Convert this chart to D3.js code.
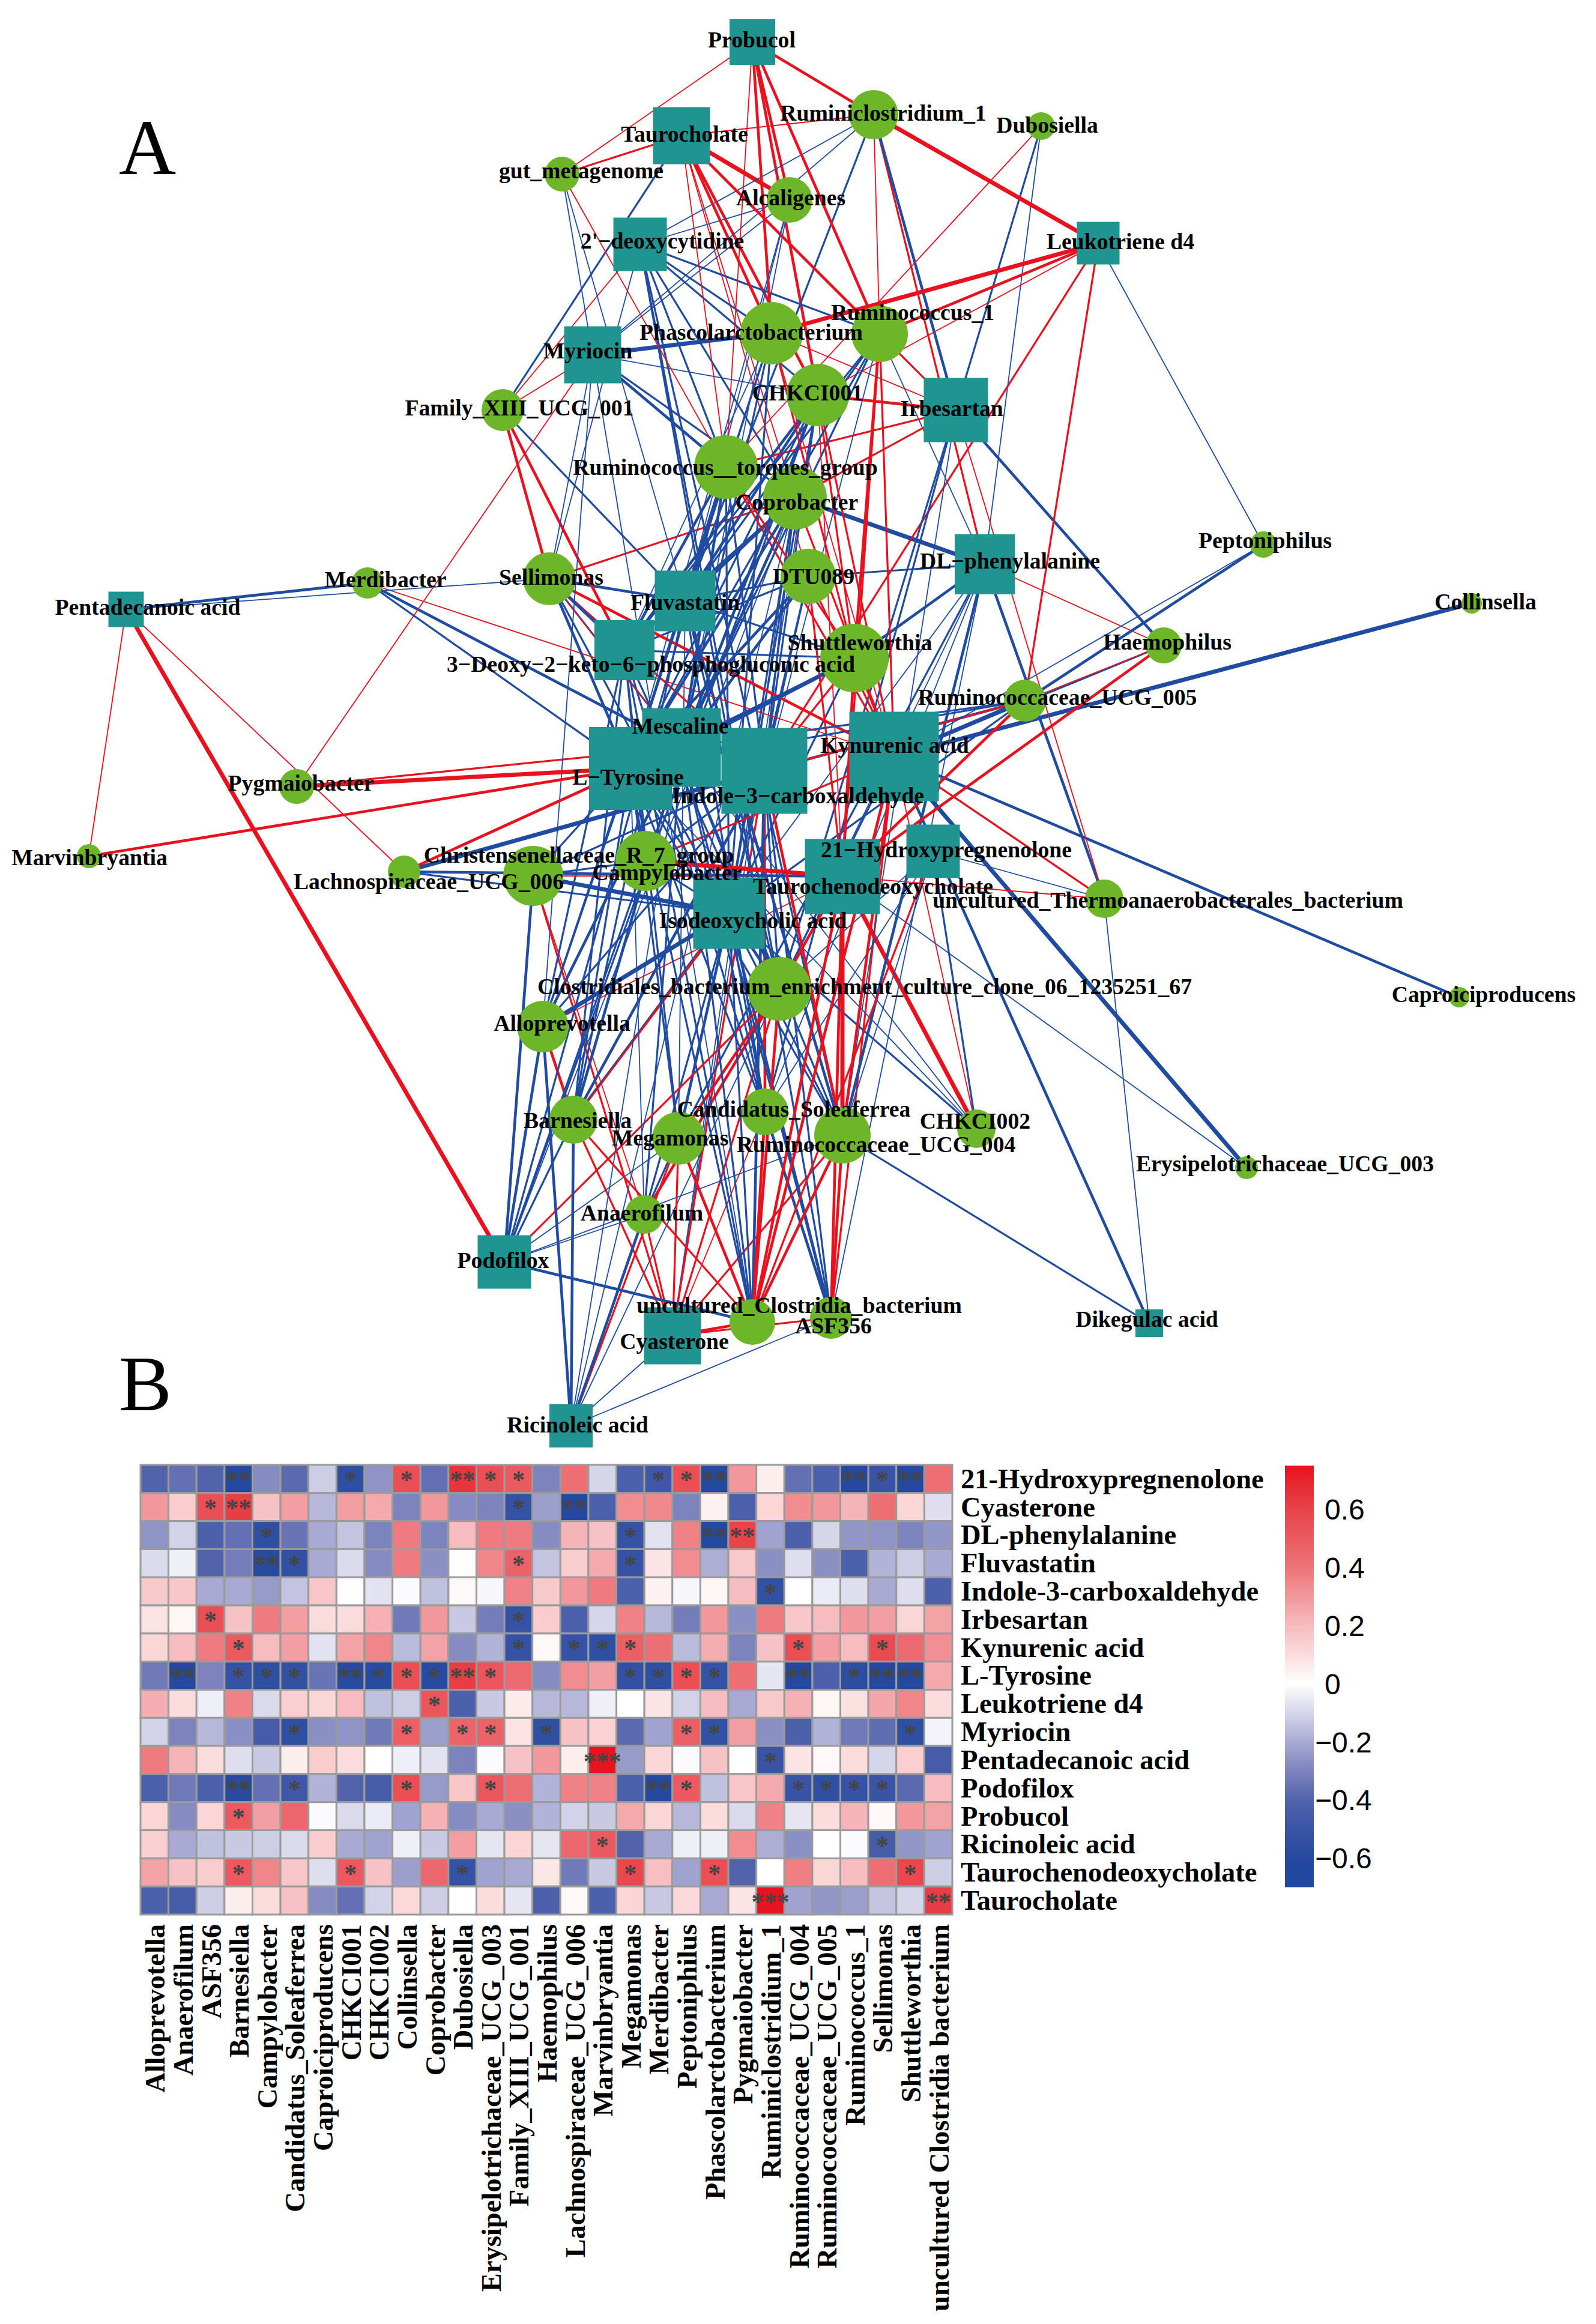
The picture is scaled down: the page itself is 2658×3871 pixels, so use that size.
<!DOCTYPE html>
<html><head><meta charset="utf-8">
<script src="https://cdn.jsdelivr.net/npm/d3@7"></script>
<style>html,body{margin:0;padding:0;background:#fff}svg{display:block}</style>
</head><body><div id="c"></div>
<script>
// ---------- heatmap data ----------
const rowNames=["21-Hydroxypregnenolone","Cyasterone","DL-phenylalanine","Fluvastatin","Indole-3-carboxaldehyde","Irbesartan","Kynurenic acid","L-Tyrosine","Leukotriene d4","Myriocin","Pentadecanoic acid","Podofilox","Probucol","Ricinoleic acid","Taurochenodeoxycholate","Taurocholate"];
const colNames=["Alloprevotella","Anaerofilum","ASF356","Barnesiella","Campylobacter","Candidatus_Soleaferrea","Caproiciproducens","CHKCI001","CHKCI002","Collinsella","Coprobacter","Dubosiella","Erysipelotrichaceae_UCG_003","Family_XIII_UCG_001","Haemophilus","Lachnospiraceae_UCG_006","Marvinbryantia","Megamonas","Merdibacter","Peptoniphilus","Phascolarctobacterium","Pygmaiobacter","Ruminiclostridium_1","Ruminococcaceae_UCG_004","Ruminococcaceae_UCG_005","Ruminococcus_1","Sellimonas","Shuttleworthia","uncultured Clostridia bacterium"];
const heatValues=[
[-.4,-.36,-.4,-.6,-.28,-.38,-.12,-.55,-.26,.55,-.36,.65,.55,.5,-.3,.42,-.1,-.42,-.48,.55,-.6,.3,.05,-.36,-.42,-.6,-.5,-.6,.42],
[.3,.15,.55,.62,.18,.28,-.17,.28,.25,-.3,.3,-.28,-.3,-.52,-.23,-.6,-.42,.33,.34,-.3,.04,-.42,.12,.33,.3,.22,.42,.12,-.08],
[-.26,-.11,-.42,-.36,-.55,-.35,-.2,-.14,-.3,.38,-.3,.2,.38,.38,-.28,.22,.18,-.52,-.07,.36,-.6,.6,-.22,-.42,-.1,-.25,-.26,-.3,-.25],
[-.09,-.04,-.4,-.32,-.58,-.53,-.2,-.09,-.28,.38,-.27,.01,.35,.47,-.14,.15,.25,-.52,.08,.33,-.19,.16,-.27,-.08,-.27,-.42,-.18,-.12,-.2],
[.16,.17,-.2,-.2,-.24,-.14,.17,.005,-.07,-.01,-.15,.02,-.02,.36,.16,.3,.38,-.42,.04,-.02,.03,.2,-.53,0,-.05,-.08,-.2,-.08,-.42],
[.08,.03,.55,.18,.38,.28,.1,.1,.23,-.33,.3,-.13,-.32,-.52,.15,-.42,-.1,.36,-.17,-.32,.3,-.27,.38,.17,.2,.3,.28,.12,.27],
[.12,.2,.38,.5,.2,.28,-.07,.27,.35,-.16,.27,-.28,-.18,-.52,.02,-.52,-.55,.48,.42,-.16,.24,-.3,.18,.55,.28,.2,.57,.44,.32],
[-.33,-.6,-.3,-.52,-.55,-.53,-.35,-.58,-.58,.55,-.58,.62,.52,.44,-.28,.33,.28,-.53,-.55,.55,-.52,.42,-.06,-.6,-.42,-.56,-.6,-.6,.25],
[.24,.1,-.04,.36,-.09,.14,.12,.2,-.15,-.12,.52,-.42,-.13,.06,-.17,-.17,-.04,0,.08,-.11,.2,-.2,.16,.23,.03,.09,.26,.35,.1],
[-.11,-.3,-.17,-.27,-.45,-.55,-.27,-.26,-.33,.48,-.23,.46,.47,.08,-.55,.18,.13,-.38,-.22,.48,-.53,.28,-.27,-.42,-.18,-.33,-.37,-.55,-.03],
[.38,.22,.1,-.08,-.13,.05,.15,.1,0,-.04,-.07,-.3,-.01,.18,.3,.05,.75,-.24,.12,-.01,.18,0,-.5,.08,.02,.1,-.1,.14,-.45],
[-.43,-.33,-.42,-.58,-.36,-.48,-.18,-.4,-.45,.55,-.24,.17,.52,.42,-.18,.36,.36,-.43,-.6,.5,-.15,.17,.25,-.5,-.55,-.52,-.5,-.38,.2],
[.12,-.28,.12,.5,.28,.45,-.01,-.09,-.05,-.22,.23,-.28,-.2,-.27,-.18,-.11,-.13,.25,.12,-.17,.1,-.09,.36,-.06,.1,.22,.02,.3,.27],
[.14,-.2,-.15,-.13,-.12,-.09,.15,-.2,-.22,-.04,-.13,.28,-.06,.12,-.06,.45,.5,-.4,-.2,-.04,-.04,.33,-.19,-.27,0,-.01,-.45,-.25,-.22],
[.27,.18,.15,.5,.35,.17,-.08,.5,.18,-.23,.45,-.52,-.22,-.2,.07,-.33,-.13,.58,.19,-.22,.55,-.4,0,.37,.12,.2,.42,.58,-.12],
[-.43,-.45,-.12,.05,.1,.18,-.28,-.36,-.11,.11,-.12,0,.1,-.06,-.42,.02,-.42,.12,-.13,.11,-.2,.08,.75,-.22,-.25,-.23,-.14,-.1,.62]];
// significance marks: 1-based column -> number of stars, per row
const heatStars=[
{4:2,8:1,10:1,12:2,13:1,14:1,19:1,20:1,21:2,26:2,27:1,28:2},
{3:1,4:2,14:1,16:2},
{5:1,18:1,21:2,22:2},
{5:2,6:1,14:1,18:1},
{23:1},
{3:1,14:1},
{4:1,14:1,16:1,17:1,18:1,24:1,27:1},
{2:2,4:1,5:1,6:1,8:2,9:1,10:1,11:1,12:2,13:1,18:1,19:1,20:1,21:1,24:2,26:1,27:2,28:2},
{11:1},
{6:1,10:1,12:1,13:1,15:1,20:1,21:1,28:1},
{17:3,23:1},
{4:2,6:1,10:1,13:1,19:2,20:1,24:1,25:1,26:1,27:1},
{4:1},
{17:1,27:1},
{4:1,8:1,12:1,18:1,21:1,28:1},
{23:3,29:2}];
const barTicks=[.6,.4,.2,0,-.2,-.4,-.6];
const colorKnots=[-.7,-.6,-.5,-.4,-.3,-.2,-.1,0,.1,.2,.3,.4,.5,.6,.75];
const colorStops=["#1e4aa2","#24499f","#3a54a5","#5263ac","#7d84bd","#a9aad3","#d6d6ea","#ffffff","#fbdcdd","#f6bcbf","#f2979b","#ee7479","#ea5a60","#e8444a","#e8131e"];

// ---------- network data ----------
const metaboliteIds=["Pro","Tca","Deo","Leu","Myr","Irb","DLp","Flu","K3d","Mes","Tyr","Ind","Kyn","H21","Tcd","Iso","Pen","Pod","Cya","Ric","Dik"];
const microbeIds=["Rc1","Dub","Gut","Alc","Pha","Rm1","Ck1","Fam","Tor","Cop","Sel","DTU","Shu","Mer","U05","Hae","Pep","Col","Pyg","Mar","Lac","Chr","Cam","The","Cap","Clo","All","Bar","Can","Meg","U04","Ck2","Ana","UCl","ASF","Ery"];
const nodeLabels={Pro:"Probucol",Tca:"Taurocholate",Deo:"2'−deoxycytidine",Leu:"Leukotriene d4",Myr:"Myriocin",Irb:"Irbesartan",DLp:"DL−phenylalanine",Flu:"Fluvastatin",K3d:"3−Deoxy−2−keto−6−phosphogluconic acid",Mes:"Mescaline",Tyr:"L−Tyrosine",Ind:"Indole−3−carboxaldehyde",Kyn:"Kynurenic acid",H21:"21−Hydroxypregnenolone",Tcd:"Taurochenodeoxycholate",Iso:"Isodeoxycholic acid",Pen:"Pentadecanoic acid",Pod:"Podofilox",Cya:"Cyasterone",Ric:"Ricinoleic acid",Dik:"Dikegulac acid",
Rc1:"Ruminiclostridium_1",Dub:"Dubosiella",Gut:"gut_metagenome",Alc:"Alcaligenes",Pha:"Phascolarctobacterium",Rm1:"Ruminococcus_1",Ck1:"CHKCI001",Fam:"Family_XIII_UCG_001",Tor:"Ruminococcus__torques_group",Cop:"Coprobacter",Sel:"Sellimonas",DTU:"DTU089",Shu:"Shuttleworthia",Mer:"Merdibacter",U05:"Ruminococcaceae_UCG_005",Hae:"Haemophilus",Pep:"Peptoniphilus",Col:"Collinsella",Pyg:"Pygmaiobacter",Mar:"Marvinbryantia",Lac:"Lachnospiraceae_UCG_006",Chr:"Christensenellaceae_R_7_group",Cam:"Campylobacter",The:"uncultured_Thermoanaerobacterales_bacterium",Cap:"Caproiciproducens",Clo:"Clostridiales_bacterium_enrichment_culture_clone_06_1235251_67",All:"Alloprevotella",Bar:"Barnesiella",Can:"Candidatus_Soleaferrea",Meg:"Megamonas",U04:"Ruminococcaceae_UCG_004",Ck2:"CHKCI002",Ana:"Anaerofilum",UCl:"uncultured_Clostridia_bacterium",ASF:"ASF356",Ery:"Erysipelotrichaceae_UCG_003"};
// network layout units: id -> [x, y, node size, label x, label y]
const layoutTable={Pro:[1253,70,76,1252,67],Tca:[1135,226,95,1140,224],Deo:[1066,407,89,1103,402],Leu:[1829,405,71,1866,403],Myr:[987,591,95,979,585],Irb:[1592,683,107,1585,681],DLp:[1640,940,100,1682,935],Flu:[1141,1001,101,1141,1004],K3d:[1040,1083,100,1084,1107],Mes:[1135,1245,131,1133,1210],Tyr:[1050,1280,138,1046,1295],Ind:[1273,1284,143,1329,1326],Kyn:[1489,1260,149,1490,1242],H21:[1554,1418,89,1576,1416],Tcd:[1403,1460,125,1454,1477],Iso:[1214,1521,119,1254,1534],Pen:[210,1015,59,246,1012],Pod:[840,2102,89,838,2100],Cya:[1120,2225,95,1123,2235],Ric:[951,2375,72,962,2374],Dik:[1914,2204,46,1910,2198],
Rc1:[1455,191,41,1471,189],Dub:[1734,210,23,1744,209],Gut:[936,290,29,968,285],Alc:[1315,333,38,1317,330],Pha:[1285,555,52,1251,554],Rm1:[1465,556,47,1520,521],Ck1:[1362,658,52,1345,655],Fam:[837,683,35,865,680],Tor:[1209,778,53,1208,779],Cop:[1324,829,53,1327,837],Sel:[915,964,44,918,962],DTU:[1346,960,46,1355,961],Shu:[1423,1096,57,1432,1071],Mer:[612,971,26,642,966],U05:[1707,1167,35,1761,1162],Hae:[1938,1075,30,1944,1070],Pep:[2104,907,22,2107,901],Col:[2451,1005,17,2474,1003],Pyg:[494,1310,29,501,1305],Mar:[148,1426,20,149,1429],Lac:[673,1452,27,714,1469],Chr:[888,1459,50,964,1425],Cam:[1075,1434,50,1111,1454],The:[1839,1497,32,1945,1500],Cap:[2430,1661,17,2471,1657],Clo:[1298,1647,53,1440,1644],All:[904,1710,43,936,1705],Bar:[955,1865,40,962,1867],Can:[1274,1852,39,1322,1848],Meg:[1130,1896,44,1116,1896],U04:[1403,1891,47,1459,1907],Ck2:[1626,1880,32,1624,1868],Ana:[1073,2023,32,1069,2021],UCl:[1253,2202,38,1331,2175],ASF:[1384,2195,35,1388,2209],Ery:[2076,1945,19,2140,1939]};
// edge lists: "source target strength"
const positiveEdges="Pro Gut 1,Pro Rc1 3,Pro Alc 3,Pro Pha 3,Pro Ck1 3,Pro Rm1 3,Pro Tor 1,Tca Gut 2,Tca Rc1 1,Tca Alc 4,Tca Rm1 3,Tca Pha 3,Tca Ck1 3,Tca Tor 1,Tca Cop 1,Tca DTU 1,Rc1 Leu 4,Rc1 Rm1 1,Rc1 DLp 2,Dub Tor 1,Leu Pha 4,Leu Rm1 3,Leu Ck1 1,Leu Ind 2,Leu U05 2,Rm1 Irb 2,Rm1 Shu 3,Rm1 Kyn 2,Rm1 Tcd 2,Pha Irb 1,Pha Shu 2,Pha Kyn 1,Ck1 Irb 3,Ck1 Shu 2,Ck1 Kyn 2,Ck1 Tcd 1,Tor Irb 2,Gut Tor 1,Tor Shu 2,Tor Kyn 2,Cop Irb 2,Sel Cop 2,Cop Kyn 2,Myr Fam 1,Myr Pyg 1,Fam Deo 1,Fam Sel 3,Fam K3d 3,Sel Kyn 3,Sel Ind 2,Sel Mes 1,Mer Kyn 1,Pen Mar 1,Pen Pod 4,Pen Lac 1,Pyg Tyr 4,Pyg Mes 2,Mar Tyr 3,Lac Tyr 3,Chr Tcd 1,Cam Tcd 4,Cam Kyn 2,The Tcd 1,The Kyn 2,Irb The 1,Hae DLp 1,Hae U05 1,Hae Tcd 3,U05 Tcd 3,U05 Ind 2,DTU Kyn 2,DTU Tcd 2,Shu Kyn 3,Shu Tcd 3,Shu Ind 2,Clo Tcd 3,Clo Pod 2,Clo Cya 2,Clo Ana 3,Clo UCl 3,Clo Meg 3,Tcd UCl 3,Tcd U04 4,Tcd ASF 3,Tcd Ck2 4,Kyn U04 3,Kyn UCl 3,Kyn ASF 2,Kyn Ck2 1,Ind U04 3,Ind Can 3,Ind Cya 2,H21 UCl 2,Tcd All 1,Iso Bar 3,All Bar 3,Chr Ana 1,Bar UCl 2,Bar Cya 2,Chr Cya 2,Meg UCl 3,Meg Cya 2,Can UCl 3,Can Cya 1,U04 ASF 3,U04 UCl 3,U04 Cya 2,Cya UCl 3,Cya ASF 2,Ric Meg 2,Ana Cya 2".split(",");
const negativeEdges="Tor Flu 3,Tor K3d 3,Tor Mes 3,Tor Tyr 3,Tor Iso 2,Tor Ind 2,Tor Myr 3,Tor Deo 2,Tor Pod 2,Tor Ric 1,Cop Flu 3,Cop K3d 3,Cop Mes 3,Cop Tyr 3,Cop Iso 2,Cop Ind 2,Cop Myr 2,Cop DLp 4,Cop Deo 2,Cop Pod 1,Cop Ric 1,Cop Cya 1,Ck1 Flu 3,Ck1 K3d 3,Ck1 Mes 3,Ck1 Tyr 2,Ck1 Iso 2,Ck1 Ind 2,Ck1 Myr 1,Ck1 Deo 2,Ck1 Pod 2,Ck1 Cya 1,Rm1 Flu 2,Rm1 K3d 2,Rm1 Mes 2,Rm1 Tyr 2,Rm1 Iso 1,Rm1 Deo 2,Rm1 DLp 1,Pha Myr 4,Pha Deo 2,Pha Flu 2,Pha K3d 1,Pha Mes 2,Pha Tyr 2,Pha Iso 2,DTU DLp 2,DTU Flu 2,DTU K3d 2,DTU Mes 3,DTU Tyr 3,DTU Iso 2,DTU Ind 2,Alc Deo 1,Alc Myr 1,Alc Flu 1,Alc Mes 1,Alc Tyr 1,Sel Pen 1,Sel Flu 3,Sel K3d 3,Sel Mes 2,Sel Tyr 3,Sel Iso 2,Sel Deo 1,Sel Myr 1,Fam Tca 2,Fam Flu 2,Shu K3d 2,Shu DLp 3,Shu Flu 2,Shu Mes 4,Shu Tyr 2,Shu Iso 2,Mer Mes 3,Mer Tyr 2,Mer Pen 3,Gut Myr 1,Gut Flu 1,U05 Kyn 4,U05 Ind 3,U05 Mes 2,U05 Tyr 2,U05 Iso 2,U05 Pep 3,Clo Tyr 2,Clo Mes 3,Clo Iso 3,Clo Ind 2,Clo Kyn 2,Clo K3d 2,Clo Flu 2,Clo H21 1,Clo DLp 1,Clo Deo 2,Clo Irb 2,All Tyr 2,All Mes 3,All K3d 2,All Flu 2,All Iso 4,All Ind 2,All Pod 3,All Ric 3,All Myr 1,Bar Tyr 2,Bar Mes 3,Bar K3d 2,Bar Flu 2,Bar Ind 3,Bar Pod 2,Bar Ric 3,Bar DLp 1,Can Mes 2,Can Tyr 2,Can Iso 2,Can Flu 2,Can K3d 2,Can H21 1,Can ASF 3,Can Irb 2,Can DLp 1,Meg Tyr 2,Meg K3d 2,Meg Iso 3,Meg Flu 1,Meg Pod 1,Meg Ana 1,Meg DLp 2,U04 Iso 2,U04 DLp 3,U04 Flu 3,U04 H21 1,U04 Tyr 2,U04 Pod 1,U04 Dik 2,U04 Mes 2,U04 Deo 2,U04 Irb 1,Ck2 H21 2,Ck2 Iso 2,Ck2 Tyr 1,Ck2 Mes 1,Ana Mes 2,Ana Iso 2,Ana Tyr 1,Ana Pod 1,Ana Ric 3,Ana Meg 2,UCl Tyr 2,UCl Mes 2,UCl Iso 2,UCl Ind 3,UCl Pod 3,UCl K3d 2,UCl Myr 1,ASF Iso 3,ASF Ind 2,ASF Mes 2,ASF Ric 1,ASF Deo 2,ASF DLp 1,Lac Ind 4,Lac Iso 2,Lac Tcd 3,Chr Iso 4,Chr Pod 3,Chr Tyr 2,Chr Ind 2,Chr Cam 2,Cam Tyr 2,Cam K3d 2,Cam Ind 2,Cam Pod 2,Cam Iso 2,The H21 1,The Dik 1,The DLp 3,Cap Kyn 3,Col Kyn 4,Ery Kyn 4,Ery Tcd 1,Dik Kyn 3,Hae Kyn 2,Hae Irb 3,Pep Kyn 1,Pep Leu 1,Dub Irb 2,Dub DLp 1,Rc1 Irb 3,Rc1 Deo 1,Rc1 Myr 1,Rc1 Flu 2,Ric Cya 1,Ric Clo 1".split(",");
const panelLetters=["A","B"];

// ---------- drawing ----------
const W=2658,H=3871;
const serif="'Liberation Serif','Times New Roman',serif",sans="'Liberation Sans',Arial,sans-serif";
const svg=d3.select("#c").append("svg").attr("width",W).attr("height",H).attr("viewBox",`0 0 ${W} ${H}`);
svg.append("rect").attr("width",W).attr("height",H).attr("fill","#fff");
const layout=d3.scaleLinear().domain([0,2658]).range([0,W]);
const nodePos=id=>layoutTable[id];
const edgeWidth=d3.scaleOrdinal().domain([1,2,3,4]).range([1.8,3.2,4.6,7]);
const parseEdges=(list,color)=>list.map(s=>{const p=s.split(" ");return {a:p[0],b:p[1],w:+p[2],color};});
const edges=parseEdges(negativeEdges,"#1f4ba3").concat(parseEdges(positiveEdges,"#e8111d"))
  .sort((p,q)=>d3.ascending(p.b+p.a,q.b+q.a));
const net=svg.append("g");
net.append("g").selectAll("line").data(edges).join("line")
 .attr("x1",d=>layout(nodePos(d.a)[0])).attr("y1",d=>layout(nodePos(d.a)[1]))
 .attr("x2",d=>layout(nodePos(d.b)[0])).attr("y2",d=>layout(nodePos(d.b)[1]))
 .attr("stroke",d=>d.color).attr("stroke-width",d=>edgeWidth(d.w));
net.append("g").selectAll("circle").data(microbeIds).join("circle")
 .attr("cx",d=>layout(nodePos(d)[0])).attr("cy",d=>layout(nodePos(d)[1])).attr("r",d=>layout(nodePos(d)[2])).attr("fill","#6db629");
net.append("g").selectAll("rect").data(metaboliteIds).join("rect")
 .attr("x",d=>layout(nodePos(d)[0]-nodePos(d)[2]/2)).attr("y",d=>layout(nodePos(d)[1]-nodePos(d)[2]/2))
 .attr("width",d=>layout(nodePos(d)[2])).attr("height",d=>layout(nodePos(d)[2])).attr("fill","#1f9490");
net.append("g").selectAll("text").data(metaboliteIds.concat(microbeIds)).join("text")
 .attr("x",d=>layout(nodePos(d)[3])).attr("y",d=>layout(nodePos(d)[4])).attr("dy","0.32em")
 .attr("text-anchor","middle").attr("font-family",serif).attr("font-weight","bold").attr("font-size",37.7).attr("fill","#000")
 .text(d=>nodeLabels[d]);

// panel letters
svg.selectAll("text.panel").data(panelLetters).join("text").attr("class","panel")
 .attr("x",198).attr("y",(d,i)=>[290,2349][i]).attr("font-family",serif).attr("font-size",132).attr("fill","#000").text(d=>d);

// heatmap
const x=d3.scaleBand().domain(colNames).range([234,1586]);
const y=d3.scaleBand().domain(rowNames).range([2440,3189]);
const color=d3.scaleLinear().domain(colorKnots).range(colorStops).clamp(true);
const cells=heatValues.flatMap((r,i)=>r.map((v,j)=>({r:rowNames[i],c:colNames[j],v,s:heatStars[i][j+1]||0})));
const hm=svg.append("g");
hm.selectAll("rect").data(cells).join("rect")
 .attr("x",d=>x(d.c)).attr("y",d=>y(d.r)).attr("width",x.bandwidth()).attr("height",y.bandwidth())
 .attr("fill",d=>color(d.v)).attr("stroke","#9b9b9b").attr("stroke-width",3);
hm.selectAll("text").data(cells.filter(d=>d.s>0)).join("text")
 .attr("x",d=>x(d.c)+x.bandwidth()/2).attr("y",d=>y(d.r)+y.bandwidth()/2+16)
 .attr("text-anchor","middle").attr("font-family",serif).attr("font-weight","bold").attr("font-size",42).attr("fill","#444")
 .text(d=>"*".repeat(d.s));
svg.append("g").selectAll("text").data(rowNames).join("text")
 .attr("x",1600).attr("y",d=>y(d)+y.bandwidth()/2).attr("dy","0.33em")
 .attr("font-family",serif).attr("font-weight","bold").attr("font-size",46.5).attr("fill","#000").text(d=>d);
svg.append("g").selectAll("text").data(colNames).join("text")
 .attr("transform",d=>`translate(${x(d)+x.bandwidth()/2+17},3205) rotate(-90)`)
 .attr("text-anchor","end").attr("font-family",serif).attr("font-weight","bold").attr("font-size",46.5).attr("fill","#000").text(d=>d);

// colour bar
const barScale=d3.scaleLinear().domain([-.6,.6]).range([3095,2514]);
const defs=svg.append("defs");
const grad=defs.append("linearGradient").attr("id","bar").attr("x1",0).attr("x2",0).attr("y1",1).attr("y2",0);
colorKnots.forEach((k,i)=>grad.append("stop").attr("offset",(k+.7)/1.45).attr("stop-color",colorStops[i]));
svg.append("rect").attr("x",2140).attr("y",barScale(.75)).attr("width",48).attr("height",barScale(-.7)-barScale(.75)).attr("fill","url(#bar)");
svg.append("g").selectAll("text").data(barTicks).join("text")
 .attr("x",d=>d<0?2190:2206).attr("y",d=>barScale(d)).attr("dy","0.36em")
 .attr("font-family",sans).attr("font-size",48).attr("fill","#000")
 .text(d=>(d<0?"−":"")+(d===0?"0":Math.abs(d).toFixed(1)));
</script></body></html>
